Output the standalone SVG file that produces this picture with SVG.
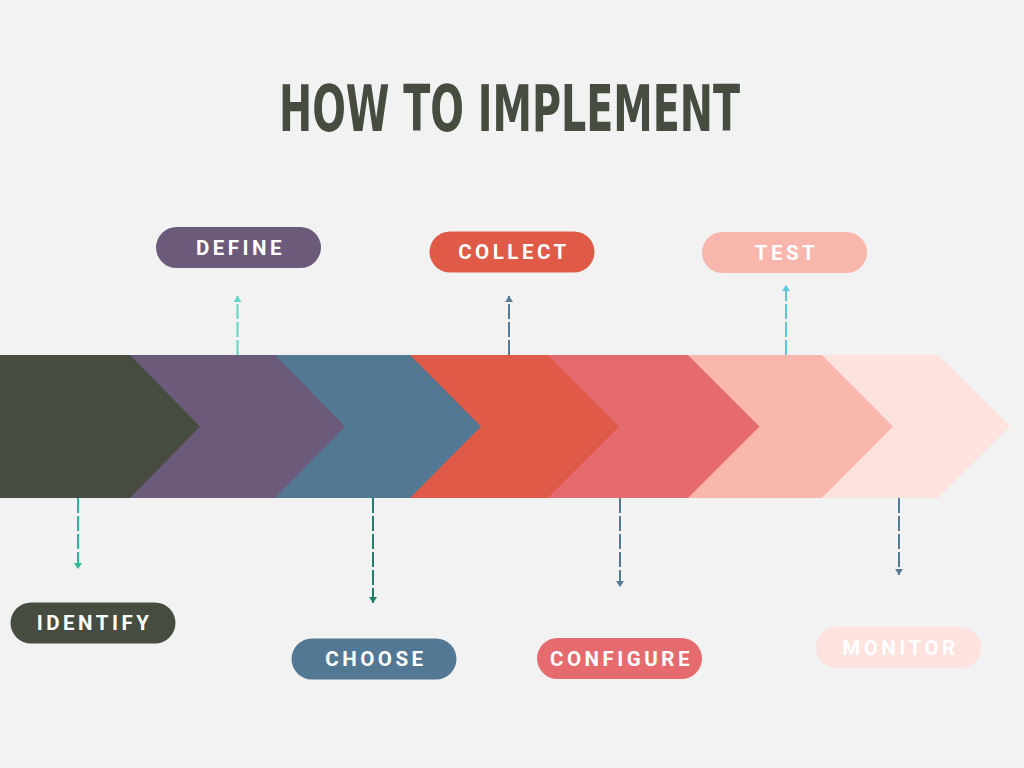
<svg xmlns="http://www.w3.org/2000/svg" width="1024" height="768" viewBox="0 0 1024 768">
<defs>
<style>
.title{font-family:"DejaVu Sans Condensed","DejaVu Sans","Liberation Sans",sans-serif;font-weight:bold;font-stretch:condensed;font-size:64px;fill:#464D40}
.lbl{font-family:Roboto,"Liberation Sans",sans-serif;font-weight:bold;font-size:20.5px;letter-spacing:3.5px;fill:#FFFFFF;text-anchor:middle}
.conn{fill:none;stroke-width:2;stroke-dasharray:15 3}
</style>
<marker id="mTeal" viewBox="0 0 6 8" refX="6" refY="4" markerWidth="6" markerHeight="8" markerUnits="userSpaceOnUse" orient="auto"><path d="M0,0 L6,4 L0,8 z" fill="#2BB799"/></marker>
<marker id="mLTeal" viewBox="0 0 6 8" refX="6" refY="4" markerWidth="6" markerHeight="8" markerUnits="userSpaceOnUse" orient="auto"><path d="M0,0 L6,4 L0,8 z" fill="#5ED8C5"/></marker>
<marker id="mDTeal" viewBox="0 0 6 8" refX="6" refY="4" markerWidth="6" markerHeight="8" markerUnits="userSpaceOnUse" orient="auto"><path d="M0,0 L6,4 L0,8 z" fill="#1E7F6C"/></marker>
<marker id="mBlue" viewBox="0 0 6 8" refX="6" refY="4" markerWidth="6" markerHeight="8" markerUnits="userSpaceOnUse" orient="auto"><path d="M0,0 L6,4 L0,8 z" fill="#557A96"/></marker>
<marker id="mCyan" viewBox="0 0 6 8" refX="6" refY="4" markerWidth="6" markerHeight="8" markerUnits="userSpaceOnUse" orient="auto"><path d="M0,0 L6,4 L0,8 z" fill="#5BC8E0"/></marker>
</defs>
<rect width="1024" height="768" fill="#F1F2F1"/>
<text class="title" x="279" y="131" textLength="461" lengthAdjust="spacingAndGlyphs">HOW TO IMPLEMENT</text>

<g id="chevrons">
<polygon points="821.7,355 938,355 1010,426.5 938,498 821.7,498" fill="#FDE2DE"/>
<polygon points="688,355 821.7,355 893,426.5 821.7,498 688,498" fill="#F8B6AC"/>
<polygon points="547.7,355 688,355 759.5,426.5 688,498 547.7,498" fill="#E66B6E"/>
<polygon points="410,355 547.7,355 619,426.5 547.7,498 410,498" fill="#E05A48"/>
<polygon points="275,355 410,355 481,426.5 410,498 275,498" fill="#537893"/>
<polygon points="130,355 275,355 345,426.5 275,498 130,498" fill="#6C5A7B"/>
<polygon points="0,355 130,355 200,426.5 130,498 0,498" fill="#464D40"/>
</g>

<g id="connectors">
<line class="conn" x1="78" y1="498" x2="78" y2="569" stroke="#2BB799" marker-end="url(#mTeal)"/>
<line class="conn" x1="237.5" y1="355" x2="237.5" y2="296" stroke="#5ED8C5" marker-end="url(#mLTeal)"/>
<line class="conn" x1="373" y1="498" x2="373" y2="603" stroke="#1E7F6C" marker-end="url(#mDTeal)"/>
<line class="conn" x1="509" y1="355" x2="509" y2="296" stroke="#557A96" marker-end="url(#mBlue)"/>
<line class="conn" x1="620" y1="498" x2="620" y2="587" stroke="#557A96" marker-end="url(#mBlue)"/>
<line class="conn" x1="786" y1="355" x2="786" y2="285" stroke="#5BC8E0" marker-end="url(#mCyan)"/>
<line class="conn" x1="899" y1="498" x2="899" y2="575" stroke="#557A96" marker-end="url(#mBlue)"/>
</g>

<g id="identify">
<rect x="10.5" y="602.5" width="165" height="41" rx="20.5" fill="#464D40"/>
<text class="lbl" x="94.5" y="629.5">IDENTIFY</text>
</g>
<g id="define">
<rect x="156" y="227" width="165" height="41" rx="20.5" fill="#6C5A7B"/>
<text class="lbl" x="240.5" y="255">DEFINE</text>
</g>
<g id="choose">
<rect x="291.5" y="638.5" width="165" height="41" rx="20.5" fill="#537893"/>
<text class="lbl" x="376" y="666">CHOOSE</text>
</g>
<g id="collect">
<rect x="429.5" y="231.5" width="165" height="41" rx="20.5" fill="#E05A48"/>
<text class="lbl" x="514" y="259">COLLECT</text>
</g>
<g id="configure">
<rect x="537" y="638" width="165" height="41" rx="20.5" fill="#E66B6E"/>
<text class="lbl" x="621.5" y="666">CONFIGURE</text>
</g>
<g id="test">
<rect x="702" y="232" width="165" height="41" rx="20.5" fill="#F8B6AC"/>
<text class="lbl" x="786.5" y="259.5">TEST</text>
</g>
<g id="monitor">
<rect x="816" y="627" width="165" height="41" rx="20.5" fill="#FDE2DE"/>
<text class="lbl" x="900.5" y="655">MONITOR</text>
</g>
</svg>
